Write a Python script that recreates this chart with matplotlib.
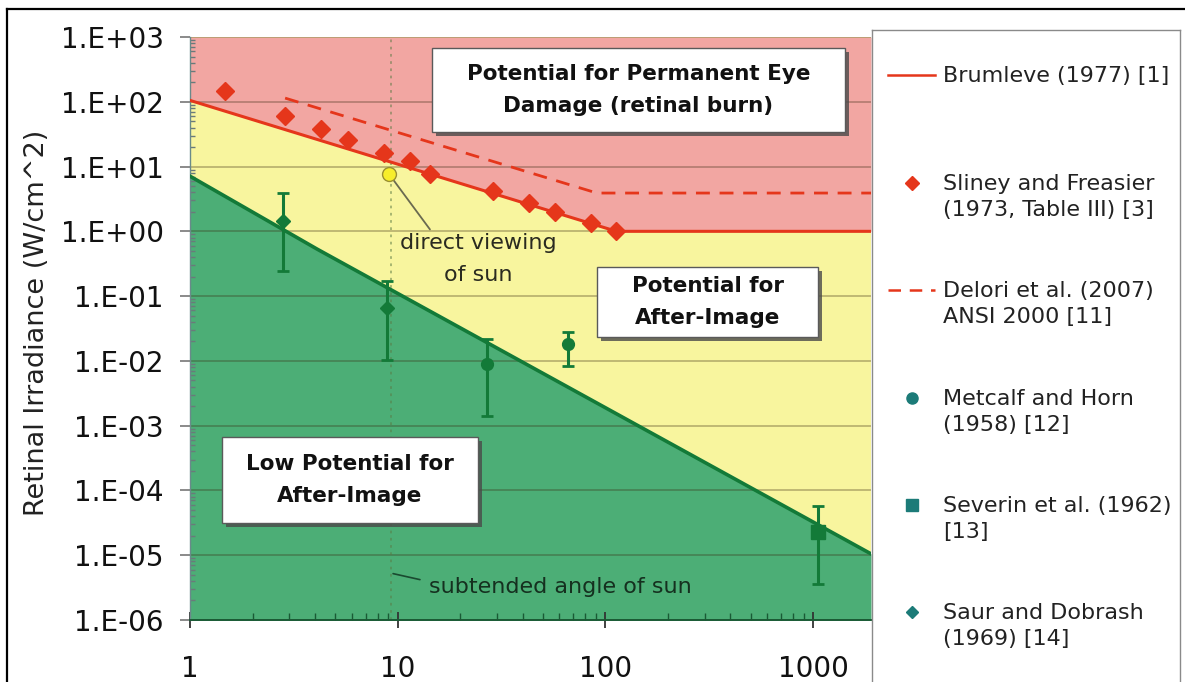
import numpy as np
import matplotlib
matplotlib.use("Agg")
import matplotlib.pyplot as plt
from matplotlib.patches import Rectangle
from matplotlib.lines import Line2D
from matplotlib.ticker import FixedLocator, FixedFormatter, NullFormatter

plt.rcParams['font.family'] = ['DejaVu Sans']

# ---------------- data ----------------
x_ticks = [1, 10, 100, 1000]
x_tick_labels = ["1", "10", "100", "1000"]
y_ticks = [1e-6, 1e-5, 1e-4, 1e-3, 1e-2, 1e-1, 1e0, 1e1, 1e2, 1e3]
y_tick_labels = ["1.E-06", "1.E-05", "1.E-04", "1.E-03", "1.E-02",
                 "1.E-01", "1.E+00", "1.E+01", "1.E+02", "1.E+03"]
x_range = [1, 1900]
y_range = [1e-6, 1e3]

brumleve_x = [1, 113, 1900]
brumleve_y = [105, 1.0, 1.0]

delori_x = [2.87, 91, 1900]
delori_y = [114, 3.9, 3.9]

afterimage_x = [1, 4.1, 1900]
afterimage_y = [7.1, 0.53, 1.05e-5]

sliney_x = [1.47, 2.87, 4.27, 5.76, 8.6, 11.4, 14.3, 28.8, 42.8, 57, 85, 113]
sliney_y = [146, 60, 38, 26, 16, 12, 7.6, 4.2, 2.7, 1.97, 1.33, 1.0]

saur_x = [2.8, 8.9]
saur_y = [1.45, 0.065]
saur_lo = [0.24, 0.0105]
saur_hi = [3.9, 0.17]

metcalf_x = [27, 66]
metcalf_y = [0.0088, 0.018]
metcalf_lo = [0.0014, 0.0082]
metcalf_hi = [0.022, 0.0275]

severin_x = [1050]
severin_y = [2.3e-5]
severin_lo = [3.6e-6]
severin_hi = [5.8e-5]

sun_x = [9.1]
sun_y = [7.6]
sun_angle_x = 9.3

legend_labels = ["Brumleve (1977) [1]",
                 "Sliney and Freasier\n(1973, Table III) [3]",
                 "Delori et al. (2007)\nANSI 2000 [11]",
                 "Metcalf and Horn\n(1958) [12]",
                 "Severin et al. (1962)\n[13]",
                 "Saur and Dobrash\n(1969) [14]"]

# ---------------- style ----------------
PINK = '#f2a6a2'
YELLOW = '#f8f59e'
GREEN = '#4cae76'
RED = '#e5361b'
DGREEN = '#137a38'
TEAL = '#1c7b78'

W, H = 1185, 682
fig = plt.figure(figsize=(W / 100, H / 100), dpi=100)
fig.patch.set_facecolor('white')

ax_l, ax_t, ax_r, ax_b = 190, 37, 871, 620
ax = fig.add_axes([ax_l / W, (H - ax_b) / H, (ax_r - ax_l) / W, (ax_b - ax_t) / H])
ax.set_xscale('log')
ax.set_yscale('log')
ax.set_xlim(*x_range)
ax.set_ylim(*y_range)
ax.set_facecolor(YELLOW)

# regions
ax.fill_between(brumleve_x, brumleve_y, y_range[1], color=PINK, lw=0, zorder=0.2)
ax.fill_between(afterimage_x, afterimage_y, y_range[0], color=GREEN, lw=0, zorder=0.2)

# grid
ax.set_axisbelow(True)
ax.yaxis.grid(True, which='major', color='#3a2a10', alpha=0.3, lw=1.4)
ax.xaxis.grid(False)

# subtended angle of sun
ax.axvline(sun_angle_x, ls=(0, (1.5, 2.5)), color='#5a7a45', alpha=0.55, lw=1.3, zorder=1)

# lines
ax.plot(afterimage_x, afterimage_y, color=DGREEN, lw=2.6, zorder=3)
ax.plot(brumleve_x, brumleve_y, color=RED, lw=2.2, zorder=3)
ax.plot(delori_x, delori_y, color=RED, lw=2.0, ls=(0, (5, 3.5)), zorder=3)
ax.plot(sliney_x, sliney_y, ls='none', marker='D', ms=9, color=RED, mec=RED, zorder=4)


def eb(xs, ys, lo, hi, marker, ms):
    ys = np.array(ys)
    err = [ys - np.array(lo), np.array(hi) - ys]
    ax.errorbar(xs, ys, yerr=err, fmt=marker, ms=ms, color=DGREEN, ecolor=DGREEN,
                elinewidth=2.2, capsize=4.5, capthick=2, zorder=5)


eb(saur_x, saur_y, saur_lo, saur_hi, 'D', 7.5)
eb(metcalf_x, metcalf_y, metcalf_lo, metcalf_hi, 'o', 8.5)
eb(severin_x, severin_y, severin_lo, severin_hi, 's', 10)

ax.plot(sun_x, sun_y, ls='none', marker='o', ms=10, mfc='#f7ee2a', mec='#9a8f30', mew=1, zorder=6)

# annotations
ax.annotate('', xy=(sun_x[0], sun_y[0]), xytext=(14.3, 1.07),
            arrowprops=dict(arrowstyle='-', color='#6a6a50', lw=1.3, shrinkA=0, shrinkB=5), zorder=5)
ax.text(24.5, 0.37, "direct viewing\nof sun", ha='center', va='center', fontsize=16,
        color='#2a2a20', linespacing=1.75, zorder=6)
ax.annotate('', xy=(9.5, 5.2e-6), xytext=(12.8, 4.2e-6),
            arrowprops=dict(arrowstyle='-', color='#1a4a30', lw=1.2, shrinkA=0, shrinkB=0), zorder=5)
ax.text(14.2, 3.2e-6, "subtended angle of sun", ha='left', va='center', fontsize=16,
        color='#15301f', zorder=6)


# region boxes (pixel positions -> axes fraction)
def px2ax(x, y):
    return (x - ax_l) / (ax_r - ax_l), (ax_b - y) / (ax_b - ax_t)


def region_box(x0, y0, x1, y1, text):
    a0 = px2ax(x0, y1)
    a1 = px2ax(x1, y0)
    w, h = a1[0] - a0[0], a1[1] - a0[1]
    dx, dy = 4 / (ax_r - ax_l), 4 / (ax_b - ax_t)
    ax.add_patch(Rectangle((a0[0] + dx, a0[1] - dy), w, h, transform=ax.transAxes,
                           fc='#4a4a4a', ec='none', alpha=0.8, zorder=7))
    ax.add_patch(Rectangle(a0, w, h, transform=ax.transAxes, fc='white',
                           ec='#5a5a5a', lw=1.0, zorder=8))
    ax.text(a0[0] + w / 2, a0[1] + h / 2, text, transform=ax.transAxes, ha='center',
            va='center', fontsize=15.5, fontweight='bold', color='#111111',
            linespacing=1.75, zorder=9)


region_box(432, 48, 845, 132, "Potential for Permanent Eye\nDamage (retinal burn)")
region_box(597, 267, 818, 337, "Potential for\nAfter-Image")
region_box(222, 437, 478, 523, "Low Potential for\nAfter-Image")

# axes / ticks
for s in ['top', 'right']:
    ax.spines[s].set_visible(False)
ax.spines['left'].set_color('#6a8a8a')
ax.spines['left'].set_linewidth(1.0)
ax.spines['bottom'].set_color('#1a5a35')
ax.spines['bottom'].set_linewidth(1.4)

ax.yaxis.set_major_locator(FixedLocator(y_ticks))
ax.yaxis.set_major_formatter(FixedFormatter(y_tick_labels))
ax.xaxis.set_major_locator(FixedLocator(x_ticks))
ax.xaxis.set_major_formatter(FixedFormatter(x_tick_labels))
ymin_ticks = [m * 10.0 ** e for e in range(-6, 3) for m in range(2, 10)]
xmin_ticks = [m * 10.0 ** e for e in range(0, 4) for m in range(2, 10) if m * 10.0 ** e < x_range[1]]
ax.yaxis.set_minor_locator(FixedLocator(ymin_ticks))
ax.xaxis.set_minor_locator(FixedLocator(xmin_ticks))
ax.yaxis.set_minor_formatter(NullFormatter())
ax.xaxis.set_minor_formatter(NullFormatter())

ax.tick_params(axis='y', which='major', direction='out', length=7, width=1.2,
               color='#777777', pad=12, labelsize=20, labelcolor='#111111')
ax.tick_params(axis='y', which='minor', direction='in', length=3.5, width=1.0, color='#6a7a7a')
ax.tick_params(axis='x', which='major', direction='inout', length=11, width=1.3,
               color='#333333', pad=20, labelsize=20, labelcolor='#111111')
ax.tick_params(axis='x', which='minor', direction='in', length=5, width=1.0, color='#1a5a35')

fig.text(37 / W, (H - 323) / H, "Retinal Irradiance (W/cm^2)", rotation=90,
         ha='center', va='center', fontsize=19.5, color='#222222')

# legend panel
lg_l, lg_r, lg_t, lg_b = 872, 1180, 30, 692
lax = fig.add_axes([lg_l / W, (H - lg_b) / H, (lg_r - lg_l) / W, (lg_b - lg_t) / H])
lax.set_xlim(lg_l, lg_r)
lax.set_ylim(lg_b, lg_t)
lax.set_xticks([])
lax.set_yticks([])
for s in lax.spines.values():
    s.set_color('#8a8a8a')
    s.set_linewidth(1.0)
lax.set_facecolor('white')

rows = [75, 183, 290, 398, 505, 612]
hx0, hx1, hxm = 888, 935, 912
lax.add_line(Line2D([hx0, hx1], [rows[0], rows[0]], color=RED, lw=1.8))
lax.add_line(Line2D([hxm], [rows[1]], marker='D', ms=7, color=RED, ls='none'))
lax.add_line(Line2D([hx0, hx1], [rows[2], rows[2]], color=RED, lw=1.8, ls=(0, (5, 3.5))))
lax.add_line(Line2D([hxm], [rows[3]], marker='o', ms=8, color=TEAL, ls='none'))
lax.add_line(Line2D([hxm], [rows[4]], marker='s', ms=8, color=TEAL, ls='none'))
lax.add_line(Line2D([hxm], [rows[5]], marker='D', ms=6, color=TEAL, ls='none'))
for r, lab in zip(rows, legend_labels):
    lax.text(943, r - 9, lab, ha='left', va='top', fontsize=16, color='#222222',
             linespacing=1.38, transform=lax.transData)

# outer frame
fig.add_artist(Line2D([7 / W, 1.0], [(H - 9) / H, (H - 9) / H], color='black', lw=1.6,
                      transform=fig.transFigure))
fig.add_artist(Line2D([7 / W, 7 / W], [0, (H - 9) / H], color='black', lw=1.6,
                      transform=fig.transFigure))

fig.savefig('out.png', dpi=100, facecolor='white')
